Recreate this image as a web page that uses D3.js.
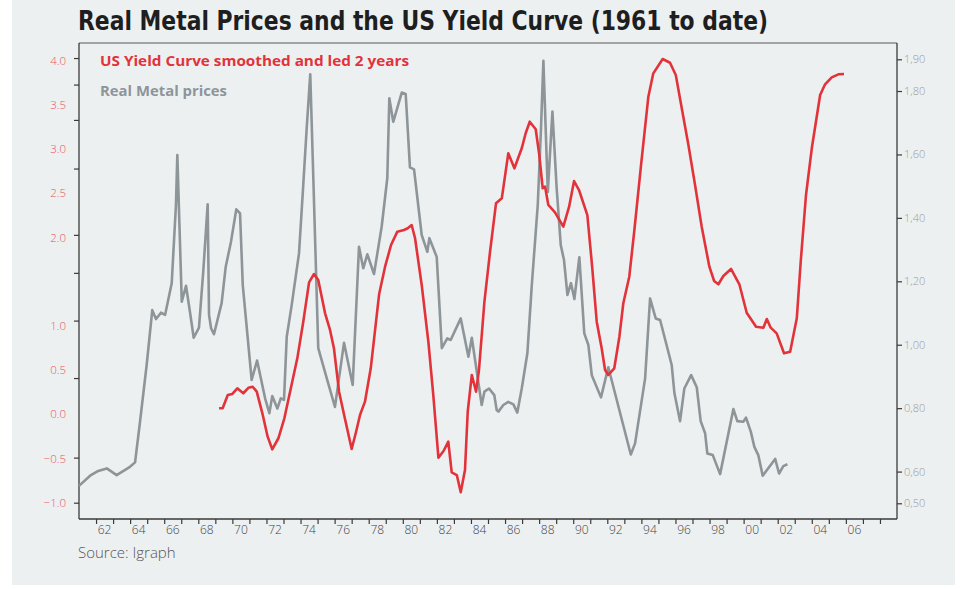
<!DOCTYPE html>
<html><head><meta charset="utf-8">
<script src="https://cdn.jsdelivr.net/npm/d3@7"></script>
<style>body{margin:0;background:#fff;} svg{display:block;}</style>
</head><body><svg id="c" width="965" height="589"></svg>
<script>
// ---- data ----
const titleText = "Real Metal Prices and the US Yield Curve (1961 to date)";
const redLabel = "US Yield Curve smoothed and led 2 years";
const grayLabel = "Real Metal prices";
const sourceText = "Source: Igraph";

const grayYears = [1961.0,1961.65,1962.13,1962.63,1963.21,1963.99,1964.29,1964.58,1964.97,1965.30,
1965.52,1965.81,1966.05,1966.44,1966.69,1966.77,1967.03,1967.28,1967.51,1967.73,
1968.04,1968.29,1968.55,1968.63,1968.75,1968.92,1969.37,1969.61,1969.92,1970.23,
1970.45,1970.61,1971.13,1971.45,1971.92,1972.17,1972.34,1972.64,1972.84,1973.03,
1973.19,1973.48,1973.91,1974.16,1974.36,1974.57,1974.75,1975.04,1975.54,1976.02,
1976.55,1977.06,1977.43,1977.68,1977.92,1978.31,1978.76,1979.09,1979.21,1979.44,
1979.94,1980.17,1980.42,1980.66,1981.11,1981.44,1981.56,1981.99,1982.29,1982.61,
1982.81,1983.40,1983.85,1984.05,1984.63,1984.79,1985.06,1985.37,1985.51,1985.61,
1985.90,1986.19,1986.49,1986.72,1986.98,1987.31,1987.57,1987.92,1988.11,1988.25,
1988.51,1988.78,1989.03,1989.27,1989.46,1989.66,1989.87,1990.07,1990.36,1990.65,
1990.89,1991.09,1991.63,1992.06,1993.38,1993.63,1994.22,1994.51,1994.84,1995.10,
1995.78,1995.94,1996.27,1996.52,1996.92,1997.25,1997.48,1997.74,1997.87,1998.19,
1998.62,1999.40,1999.63,1999.98,2000.14,2000.42,2000.63,2000.86,2001.12,2001.85,
2002.08,2002.33,2002.57];
const grayValues = [0.555,0.587,0.602,0.610,0.589,0.615,0.629,0.757,0.936,1.109,
1.081,1.101,1.094,1.194,1.441,1.598,1.136,1.186,1.104,1.022,
1.054,1.23,1.443,1.094,1.052,1.033,1.131,1.246,1.325,1.427,
1.414,1.188,0.889,0.950,0.831,0.784,0.838,0.799,0.831,0.826,
1.025,1.125,1.288,1.504,1.682,1.853,1.525,0.989,0.894,0.804,
1.006,0.873,1.309,1.241,1.285,1.223,1.372,1.525,1.777,1.703,
1.795,1.791,1.559,1.553,1.346,1.293,1.336,1.277,0.989,1.020,
1.015,1.083,0.962,1.022,0.810,0.852,0.862,0.841,0.794,0.789,
0.810,0.820,0.812,0.786,0.862,0.973,1.188,1.441,1.682,1.895,
1.482,1.735,1.493,1.314,1.267,1.157,1.194,1.144,1.276,1.036,
0.999,0.904,0.834,0.929,0.654,0.689,0.894,1.146,1.083,1.078,
0.936,0.847,0.759,0.862,0.904,0.866,0.759,0.721,0.657,0.652,
0.592,0.797,0.759,0.757,0.770,0.726,0.678,0.652,0.587,0.640,
0.594,0.617,0.623];

const redYears = [1969.22,1969.43,1969.73,1970.00,1970.29,1970.64,1970.94,1971.19,1971.43,1971.76,
1972.07,1972.34,1972.70,1973.05,1973.38,1973.81,1974.16,1974.50,1974.79,1975.04,
1975.44,1975.73,1975.96,1976.26,1976.61,1977.00,1977.26,1977.49,1977.78,1978.12,
1978.61,1978.96,1979.31,1979.68,1980.07,1980.29,1980.52,1980.72,1981.11,1981.50,
1981.79,1982.09,1982.40,1982.67,1982.87,1983.17,1983.40,1983.65,1983.81,1984.05,
1984.30,1984.47,1984.79,1985.12,1985.47,1985.81,1986.19,1986.55,1986.98,1987.21,
1987.45,1987.80,1988.01,1988.21,1988.35,1988.54,1988.93,1989.42,1989.76,1990.05,
1990.34,1990.83,1991.12,1991.38,1991.67,1991.87,1992.06,1992.41,1992.71,1992.94,
1993.29,1993.59,1993.98,1994.41,1994.70,1995.25,1995.68,1996.02,1996.37,1996.76,
1997.15,1997.54,1997.99,1998.27,1998.52,1998.81,1999.26,1999.75,2000.18,2000.73,
2001.16,2001.36,2001.59,2001.94,2002.37,2002.73,2003.12,2003.35,2003.66,2004.00,
2004.49,2004.78,2005.17,2005.56,2005.89];
const redValues = [0.068,0.068,0.218,0.23,0.294,0.238,0.30,0.312,0.256,0.011,
-0.253,-0.396,-0.271,-0.045,0.25,0.633,1.047,1.493,1.587,1.519,
1.143,0.954,0.747,0.256,-0.053,-0.393,-0.197,-0.008,0.143,0.52,
1.357,1.67,1.915,2.066,2.085,2.104,2.141,1.991,1.463,0.821,
0.218,-0.491,-0.412,-0.31,-0.656,-0.687,-0.882,-0.63,0.029,0.445,
0.256,0.501,1.274,1.839,2.387,2.443,2.952,2.783,3.009,3.179,
3.31,3.224,2.933,2.557,2.575,2.368,2.285,2.122,2.348,2.639,
2.537,2.254,1.652,1.048,0.747,0.501,0.445,0.52,0.878,1.256,
1.557,2.085,2.82,3.593,3.857,4.019,3.977,3.838,3.462,3.046,
2.594,2.122,1.67,1.508,1.471,1.564,1.644,1.471,1.149,0.991,
0.98,1.078,0.98,0.916,0.69,0.708,1.086,1.726,2.481,3.009,
3.612,3.733,3.812,3.846,3.85];

const leftLabels = [4.0,3.5,3.0,2.5,2.0,1.0,0.5,0.0,-0.5,-1.0];
const leftTickMarks = [4.03,3.73,3.33,2.78,2.03,1.6,1.06,0.41,-0.49,-1.0];
const rightTicks = [1.90,1.80,1.60,1.40,1.20,1.00,0.80,0.60,0.50];
const yearTicks = d3.range(1962, 2009, 1);
const yearLabels = d3.range(1962, 2007, 2);

// ---- layout ----
const svg = d3.select("#c");
const L = 79, R = 897, T = 43, B = 519;
const x = d3.scaleLinear().domain([1961, 2009]).range([L, R]);
const yL = d3.scaleLinear().domain([-1, 4]).range([502.7, 60.7]);
const yR = d3.scaleLinear().domain([0.5, 1.9]).range([503.3, 59.3]);

const RED = "#e2333b", GRAY = "#8d9599", BG = "#edf0f1";

svg.append("rect").attr("x", 12).attr("y", 0).attr("width", 943).attr("height", 585).attr("fill", BG);

// title
svg.append("text").attr("x", 78).attr("y", 30).text(titleText)
  .attr("font-family", "'Liberation Sans Narrow','DejaVu Sans Condensed',Roboto,sans-serif")
  .attr("font-weight", "bold").attr("font-size", 26).attr("fill", "#1e1e1e")
  .attr("textLength", 690).attr("lengthAdjust", "spacingAndGlyphs");

// frame
svg.append("line").attr("x1", L).attr("x2", R).attr("y1", T).attr("y2", T).attr("stroke", "#8a8a8a").attr("stroke-width", 1.3);
svg.append("line").attr("x1", L).attr("x2", L).attr("y1", T).attr("y2", B).attr("stroke", "#3a3a3a").attr("stroke-width", 1.3);
svg.append("line").attr("x1", R).attr("x2", R).attr("y1", T).attr("y2", B).attr("stroke", "#3a3a3a").attr("stroke-width", 1.3);
svg.append("line").attr("x1", L).attr("x2", R).attr("y1", B).attr("y2", B).attr("stroke", "#3a3a3a").attr("stroke-width", 1.3);

const axFont = "'Open Sans','DejaVu Sans',sans-serif";

// left tick marks
const gLt = svg.append("g").attr("transform", `translate(${L},0)`)
  .call(d3.axisLeft(yL).tickValues(leftTickMarks).tickSize(5).tickFormat(""));
gLt.select(".domain").remove();
gLt.selectAll("line").attr("stroke", "#3a3a3a").attr("stroke-width", 1.2);

// left labels
const gLl = svg.append("g").attr("transform", `translate(${L},0)`)
  .call(d3.axisLeft(yL).tickValues(leftLabels).tickSize(0).tickPadding(13).tickFormat(d3.format(".1f")));
gLl.select(".domain").remove();
gLl.selectAll("text").attr("fill", "#e8555b").attr("font-size", 11.5).attr("font-family", axFont).attr("font-weight", 300);

// right axis
const gR = svg.append("g").attr("transform", `translate(${R},0)`)
  .call(d3.axisRight(yR).tickValues(rightTicks).tickSize(5).tickPadding(2)
    .tickFormat(d => d3.format(".2f")(d).replace(".", ",")));
gR.select(".domain").remove();
gR.selectAll("line").attr("stroke", "#3a3a3a").attr("stroke-width", 1.2);
gR.selectAll("text").attr("fill", "#9a9a9a").attr("font-size", 11).attr("font-family", axFont).attr("font-weight", 300);

// bottom axis ticks
const gB = svg.append("g").attr("transform", `translate(0,${B})`)
  .call(d3.axisBottom(x).tickValues(yearTicks).tickSize(5).tickFormat(""));
gB.select(".domain").remove();
gB.selectAll("line").attr("stroke", "#3a3a3a").attr("stroke-width", 1.2);

// bottom labels (centred within the year)
svg.append("g").selectAll("text").data(yearLabels).join("text")
  .attr("x", d => x(d + 0.5)).attr("y", 534).attr("text-anchor", "middle")
  .attr("font-family", axFont).attr("font-weight", 300).attr("font-size", 12).attr("fill", "#444")
  .text(d => String(d % 100).padStart(2, "0"));

// lines
const grayData = grayYears.map((yr, i) => ({yr, v: grayValues[i]}));
const redData = redYears.map((yr, i) => ({yr, v: redValues[i]}));

svg.append("path").datum(grayData)
  .attr("d", d3.line().x(d => x(d.yr)).y(d => yR(d.v)))
  .attr("fill", "none").attr("stroke", GRAY).attr("stroke-width", 2.6).attr("stroke-linejoin", "round");
svg.append("path").datum(redData)
  .attr("d", d3.line().x(d => x(d.yr)).y(d => yL(d.v)))
  .attr("fill", "none").attr("stroke", RED).attr("stroke-width", 2.6).attr("stroke-linejoin", "round");

// legend
const lgFont = "'Open Sans','DejaVu Sans',sans-serif";
svg.append("text").attr("x", 100).attr("y", 66).text(redLabel)
  .attr("font-family", lgFont).attr("font-weight", "bold").attr("font-size", 15).attr("fill", RED)
  .attr("textLength", 309).attr("lengthAdjust", "spacingAndGlyphs");
svg.append("text").attr("x", 100).attr("y", 96).text(grayLabel)
  .attr("font-family", lgFont).attr("font-weight", "bold").attr("font-size", 15).attr("fill", GRAY)
  .attr("textLength", 127).attr("lengthAdjust", "spacingAndGlyphs");

// source
svg.append("text").attr("x", 78).attr("y", 558).text(sourceText)
  .attr("font-family", axFont).attr("font-weight", 300).attr("font-size", 15).attr("fill", "#555");
</script>
</body></html>
